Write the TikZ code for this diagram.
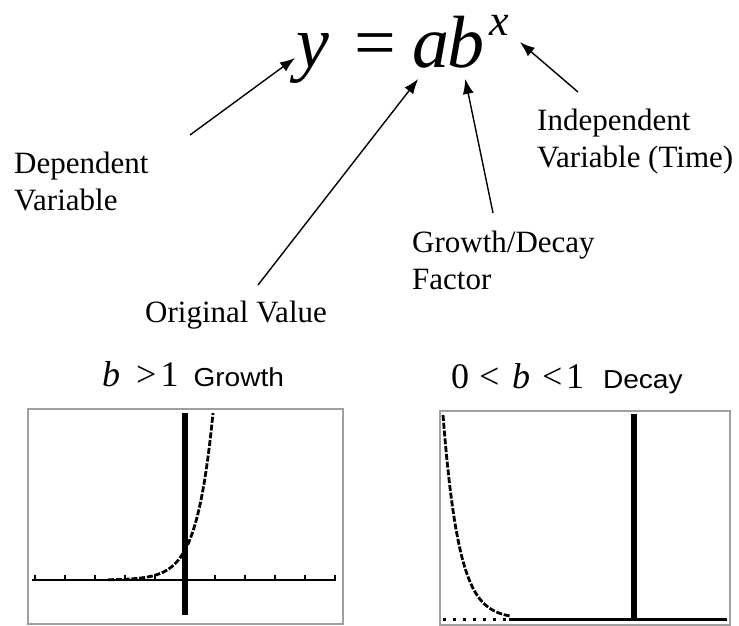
\documentclass[tikz,border=0pt]{standalone}
\usepackage{fontspec}
\setmainfont{Liberation Serif}
\setsansfont{Liberation Sans}
\usetikzlibrary{arrows.meta}

\newcommand{\wordfont}[1]{\scalebox{1.08}[1]{\fontsize{26}{30}\selectfont\sffamily #1}}

\begin{document}
\begin{tikzpicture}[
  >=Latex,
  x=1pt,
  y=-1pt,
  eqpart/.style={inner sep=0, anchor=base west, font=\fontsize{74}{80}\selectfont\itshape},
  eqsup/.style={inner sep=0, anchor=base west, font=\fontsize{44}{48}\selectfont\itshape},
  note/.style={inner sep=0, anchor=base west, align=left, font=\fontsize{31}{37}\selectfont},
  plottitle/.style={inner sep=0, anchor=base west, font=\fontsize{36}{40}\selectfont},
  callout/.style={-{Latex[length=15pt,width=11pt]}, line width=1.4pt},
  plotbox/.style={draw=gray!75, line width=1.6pt},
  plotaxis/.style={line width=2.5pt},
  curve/.style={line width=2.8pt, dash pattern=on 6pt off 1.8pt}
]
\useasboundingbox (0,0) rectangle (739,626);

% formula
\node[eqpart] (vary) at (296,67) {y};
\node[eqpart, font=\fontsize{74}{80}\selectfont\upshape] (equals) at (354,67) {=};
\node[eqpart] (coefa) at (412,67) {a};
\node[eqpart] (baseb) at (447,67) {b};
\node[eqsup] (expx) at (489,36) {x};

% labels (base = last line)
\node[note] (dep) at (14,210) {Dependent\\Variable};
\node[note] (orig) at (145,322) {Original Value};
\node[note] (factor) at (412,289) {Growth/Decay\\Factor};
\node[note] (indep) at (537,167) {Independent\\Variable (Time)};

\coordinate (deptail) at (190,135);
\coordinate (origtail) at (258,285);
\coordinate (factortail) at (493,213);
\coordinate (indeptail) at (578,92);

\draw[callout] (deptail) -- ([xshift=-1pt]vary.west);
\draw[callout] (origtail) -- ([shift={(-12.5pt,-11pt)}]coefa.south);
\draw[callout] (factortail) -- ([shift={(-0.5pt,-11pt)}]baseb.south);
\draw[callout] (indeptail) -- ([shift={(11pt,-6pt)}]expx.south east);

% growth screen
\node[plottitle] (growthtitle) at (102,386) {\itshape b\upshape\hspace{16pt}>\hspace{4pt}1\hspace{15pt}\wordfont{Growth}};
\draw[plotbox] (28,409) rectangle (343,624);
\draw[plotaxis] (32,580) -- (336,580);
\foreach \k in {-5,...,5}
  \draw[plotaxis] (185+30*\k,580) -- ++(0,-5);
\draw[line width=6pt] (185,413) -- (185,615);
\draw[curve] plot[domain=108:213, samples=60] (\x, {580-30*exp(0.0613*(\x-185))});

% decay screen
\node[plottitle] (decaytitle) at (451,388) {0\hspace{10pt}<\hspace{12.7pt}\itshape b\upshape\hspace{12pt}<\hspace{3.5pt}1\hspace{19pt}\wordfont{Decay}};
\draw[plotbox] (440,411) rectangle (730,625);
\draw[line width=6pt] (634,414) -- (634,620);
\draw[line width=3pt] (509,619) -- (727,619);
\draw[line width=3pt, dash pattern=on 3pt off 7pt] (443,619) -- (509,619);
\draw[curve] plot[domain=443:510, samples=60] (\x, {619-204*exp(-0.063*(\x-443))});

\end{tikzpicture}
\end{document}
